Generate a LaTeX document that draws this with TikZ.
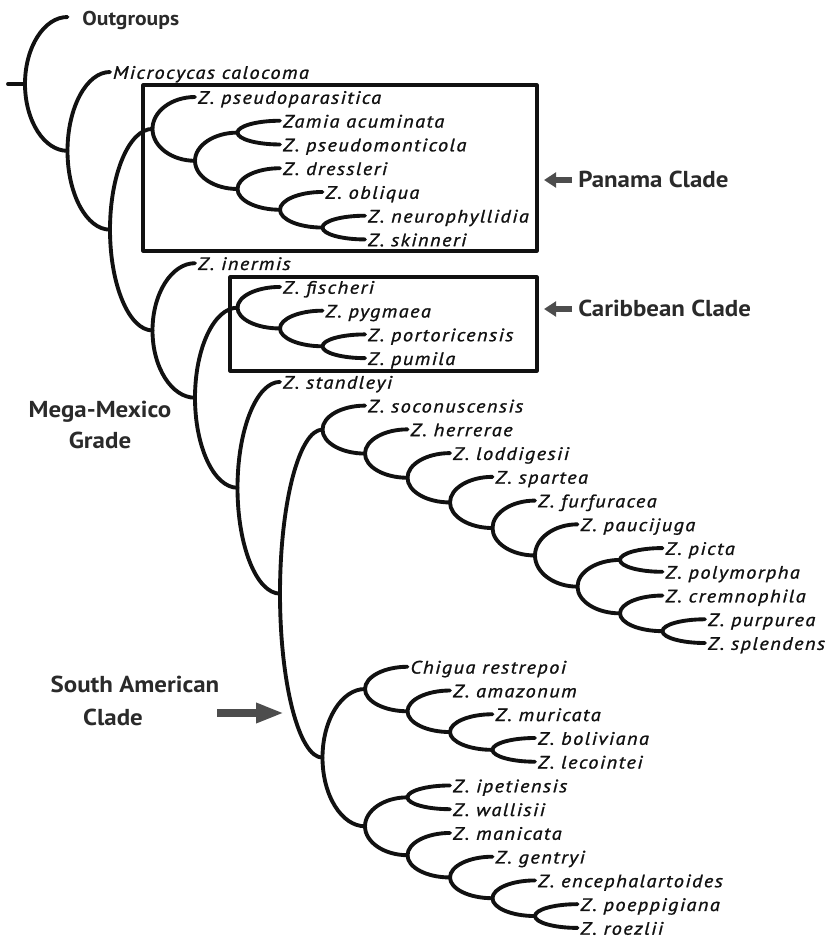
\documentclass[tikz,border=0pt]{standalone}
\usepackage{fontspec}
\setmainfont{PT Sans}
\newfontfamily\spfont[LetterSpace=8, FakeStretch=1.13, FakeBold=1.2]{PT Sans}
\newfontfamily\lblfont[FakeStretch=1.08]{PT Sans}
\usetikzlibrary{calc,arrows.meta}
\definecolor{ink}{HTML}{111111}
\definecolor{lblink}{HTML}{2A2A2A}
\definecolor{arrgray}{HTML}{4D4D4D}
\newcommand{\tipY}[1]{(97+(#1-3)*23.74)}
\tikzset{
  br/.style={to path={.. controls ($(\tikztostart)!0.55!(\tikztostart|-\tikztotarget)$) and ($(\tikztotarget)!0.55!(\tikztostart|-\tikztotarget)$) .. (\tikztotarget)}},
  branch/.style={draw=ink, line width=2.9pt, line cap=round},
  tip/.style={anchor=west, inner xsep=2pt, inner ysep=0pt, text height=10.2pt, text depth=0pt, text=ink,
    font=\spfont\itshape\fontsize{13.5pt}{15pt}\selectfont},
  outlbl/.style={anchor=west, inner xsep=11pt, inner ysep=0pt, text height=12pt, text depth=0pt, text=lblink,
    font=\lblfont\bfseries\fontsize{15pt}{17pt}\selectfont},
  biglbl/.style={inner sep=0pt, text=lblink, font=\lblfont\bfseries\fontsize{17.3pt}{20pt}\selectfont},
  cladebox/.style={draw=ink, line width=2.3pt},
  smallarrow/.style={draw=arrgray, line width=4.5pt, -{Triangle[length=9pt,width=11pt]}},
  bigarrow/.style={draw=arrgray, line width=5.3pt, -{Triangle[length=21pt,width=14pt]}}
}
\begin{document}
\begin{tikzpicture}[x=0.75pt,y=-0.75pt, line join=round]
\useasboundingbox (0,0) rectangle (833,939);

% internal nodes (y from mean tip index)
\coordinate (B)    at (110,{\tipY{8.588684}});
\coordinate (A)    at (67.5,{(72+\tipY{8.588684})/2});
\coordinate (root) at (25,{(17+(72+\tipY{8.588684})/2)/2});
\coordinate (rs)   at (8,{(17+(72+\tipY{8.588684})/2)/2});
\coordinate (Pan)  at (152.5,{\tipY{4.34375}});
\coordinate (P1)   at (195,{\tipY{5.6875}});
\coordinate (P2)   at (237.5,{\tipY{4.5}});
\coordinate (P3)   at (237.5,{\tipY{6.875}});
\coordinate (P4)   at (280,{\tipY{7.75}});
\coordinate (P5)   at (322.5,{\tipY{8.5}});
\coordinate (C)    at (152.5,{\tipY{12.833618}});
\coordinate (D)    at (195,{\tipY{15.667236}});
\coordinate (Car)  at (237.5,{\tipY{11.875}});
\coordinate (Car1) at (280,{\tipY{12.75}});
\coordinate (Car2) at (322.5,{\tipY{13.5}});
\coordinate (E)    at (237.5,{\tipY{19.459473}});
\coordinate (F)    at (280,{\tipY{23.918945}});
\coordinate (S)    at (322.5,{\tipY{17.009766}});
\coordinate (S1)   at (365,{\tipY{18.019531}});
\coordinate (S2)   at (407.5,{\tipY{19.039063}});
\coordinate (S3)   at (450,{\tipY{20.078125}});
\coordinate (S4)   at (492.5,{\tipY{21.15625}});
\coordinate (S5)   at (535,{\tipY{22.3125}});
\coordinate (S6)   at (577.5,{\tipY{23.625}});
\coordinate (S7)   at (620,{\tipY{22.5}});
\coordinate (S8)   at (620,{\tipY{24.75}});
\coordinate (S9)   at (662.5,{\tipY{25.5}});
\coordinate (G)    at (322.5,{\tipY{30.828125}});
\coordinate (GU)   at (365,{\tipY{27.9375}});
\coordinate (GU1)  at (407.5,{\tipY{28.875}});
\coordinate (GU2)  at (450,{\tipY{29.75}});
\coordinate (GU3)  at (492.5,{\tipY{30.5}});
\coordinate (GL)   at (365,{\tipY{33.71875}});
\coordinate (GL1)  at (407.5,{\tipY{32.5}});
\coordinate (GL2)  at (407.5,{\tipY{34.9375}});
\coordinate (GL3)  at (450,{\tipY{35.875}});
\coordinate (GL4)  at (492.5,{\tipY{36.75}});
\coordinate (GL5)  at (535,{\tipY{37.5}});

% tips
\node[outlbl] (t1) at (67.5,17) {Outgroups};
\node[tip] (t2)  at (110,72)   {Microcycas calocoma};
\node[tip] (t3)  at (195,{\tipY{3}})   {Z. pseudoparasitica};
\node[tip] (t4)  at (280,{\tipY{4}})   {Zamia acuminata};
\node[tip] (t5)  at (280,{\tipY{5}})   {Z. pseudomonticola};
\node[tip] (t6)  at (280,{\tipY{6}})   {Z. dressleri};
\node[tip] (t7)  at (322.5,{\tipY{7}}) {Z. obliqua};
\node[tip] (t8)  at (365,{\tipY{8}})   {Z. neurophyllidia};
\node[tip] (t9)  at (365,{\tipY{9}})   {Z. skinneri};
\node[tip] (t10) at (195,{\tipY{10}})  {Z. inermis};
\node[tip] (t11) at (280,{\tipY{11}})  {Z. fischeri};
\node[tip] (t12) at (322.5,{\tipY{12}}) {Z. pygmaea};
\node[tip] (t13) at (365,{\tipY{13}})  {Z. portoricensis};
\node[tip] (t14) at (365,{\tipY{14}})  {Z. pumila};
\node[tip] (t15) at (280,{\tipY{15}})  {Z. standleyi};
\node[tip] (t16) at (365,{\tipY{16}})  {Z. soconuscensis};
\node[tip] (t17) at (407.5,{\tipY{17}}) {Z. herrerae};
\node[tip] (t18) at (450,{\tipY{18}})  {Z. loddigesii};
\node[tip] (t19) at (492.5,{\tipY{19}}) {Z. spartea};
\node[tip] (t20) at (535,{\tipY{20}})  {Z. furfuracea};
\node[tip] (t21) at (577.5,{\tipY{21}}) {Z. paucijuga};
\node[tip] (t22) at (662.5,{\tipY{22}}) {Z. picta};
\node[tip] (t23) at (662.5,{\tipY{23}}) {Z. polymorpha};
\node[tip] (t24) at (662.5,{\tipY{24}}) {Z. cremnophila};
\node[tip] (t25) at (705,{\tipY{25}})  {Z. purpurea};
\node[tip] (t26) at (705,{\tipY{26}})  {Z. splendens};
\node[tip] (t27) at (407.5,{\tipY{27}}) {Chigua restrepoi};
\node[tip] (t28) at (450,{\tipY{28}})  {Z. amazonum};
\node[tip] (t29) at (492.5,{\tipY{29}}) {Z. muricata};
\node[tip] (t30) at (535,{\tipY{30}})  {Z. boliviana};
\node[tip] (t31) at (535,{\tipY{31}})  {Z. lecointei};
\node[tip] (t32) at (450,{\tipY{32}})  {Z. ipetiensis};
\node[tip] (t33) at (450,{\tipY{33}})  {Z. wallisii};
\node[tip] (t34) at (450,{\tipY{34}})  {Z. manicata};
\node[tip] (t35) at (492.5,{\tipY{35}}) {Z. gentryi};
\node[tip] (t36) at (535,{\tipY{36}})  {Z. encephalartoides};
\node[tip] (t37) at (577.5,{\tipY{37}}) {Z. poeppigiana};
\node[tip] (t38) at (577.5,{\tipY{38}}) {Z. roezlii};

% branches
\draw[branch] (rs) -- (root);
\draw[branch] (root) to[br] (t1.west) (root) to[br] (A);
\draw[branch] (A) to[br] (t2.west) (A) to[br] (B);
\draw[branch] (B) to[br] (Pan) (B) to[br] (C);
\draw[branch] (Pan) to[br] (t3.west) (Pan) to[br] (P1);
\draw[branch] (P1) to[br] (P2) (P1) to[br] (P3);
\draw[branch] (P2) to[br] (t4.west) (P2) to[br] (t5.west);
\draw[branch] (P3) to[br] (t6.west) (P3) to[br] (P4);
\draw[branch] (P4) to[br] (t7.west) (P4) to[br] (P5);
\draw[branch] (P5) to[br] (t8.west) (P5) to[br] (t9.west);
\draw[branch] (C) to[br] (t10.west) (C) to[br] (D);
\draw[branch] (D) to[br] (Car) (D) to[br] (E);
\draw[branch] (Car) to[br] (t11.west) (Car) to[br] (Car1);
\draw[branch] (Car1) to[br] (t12.west) (Car1) to[br] (Car2);
\draw[branch] (Car2) to[br] (t13.west) (Car2) to[br] (t14.west);
\draw[branch] (E) to[br] (t15.west) (E) to[br] (F);
\draw[branch] (F) to[br] (S) (F) to[br] (G);
\draw[branch] (S) to[br] (t16.west) (S) to[br] (S1);
\draw[branch] (S1) to[br] (t17.west) (S1) to[br] (S2);
\draw[branch] (S2) to[br] (t18.west) (S2) to[br] (S3);
\draw[branch] (S3) to[br] (t19.west) (S3) to[br] (S4);
\draw[branch] (S4) to[br] (t20.west) (S4) to[br] (S5);
\draw[branch] (S5) to[br] (t21.west) (S5) to[br] (S6);
\draw[branch] (S6) to[br] (S7) (S6) to[br] (S8);
\draw[branch] (S7) to[br] (t22.west) (S7) to[br] (t23.west);
\draw[branch] (S8) to[br] (t24.west) (S8) to[br] (S9);
\draw[branch] (S9) to[br] (t25.west) (S9) to[br] (t26.west);
\draw[branch] (G) to[br] (GU) (G) to[br] (GL);
\draw[branch] (GU) to[br] (t27.west) (GU) to[br] (GU1);
\draw[branch] (GU1) to[br] (t28.west) (GU1) to[br] (GU2);
\draw[branch] (GU2) to[br] (t29.west) (GU2) to[br] (GU3);
\draw[branch] (GU3) to[br] (t30.west) (GU3) to[br] (t31.west);
\draw[branch] (GL) to[br] (GL1) (GL) to[br] (GL2);
\draw[branch] (GL1) to[br] (t32.west) (GL1) to[br] (t33.west);
\draw[branch] (GL2) to[br] (t34.west) (GL2) to[br] (GL3);
\draw[branch] (GL3) to[br] (t35.west) (GL3) to[br] (GL4);
\draw[branch] (GL4) to[br] (t36.west) (GL4) to[br] (GL5);
\draw[branch] (GL5) to[br] (t37.west) (GL5) to[br] (t38.west);

% clade boxes
\draw[cladebox] (143,85) rectangle (537,251);
\draw[cladebox] (230,277) rectangle (537,371);

% clade labels and arrows
\node[biglbl, anchor=base west] (panama) at (578,187) {Panama Clade};
\node[biglbl, anchor=base west] (carib) at (578,316.5) {Caribbean Clade};
\node[biglbl, anchor=base] (mega1) at (100,417) {Mega-Mexico};
\node[biglbl, anchor=base] (mega2) at (100,448) {Grade};
\node[biglbl, anchor=base] (sa1) at (135,692) {South American};
\node[biglbl, anchor=base] (sa2) at (113,725) {Clade};

\coordinate (pa0) at (572,180);
\coordinate (pa1) at (544,180);
\coordinate (ca0) at (572,309);
\coordinate (ca1) at (544,309);
\coordinate (sa0) at (217,713);
\coordinate (sa1e) at (284,713);
\draw[smallarrow] (pa0) -- (pa1);
\draw[smallarrow] (ca0) -- (ca1);
\draw[bigarrow] (sa0) -- (sa1e);
\end{tikzpicture}
\end{document}
